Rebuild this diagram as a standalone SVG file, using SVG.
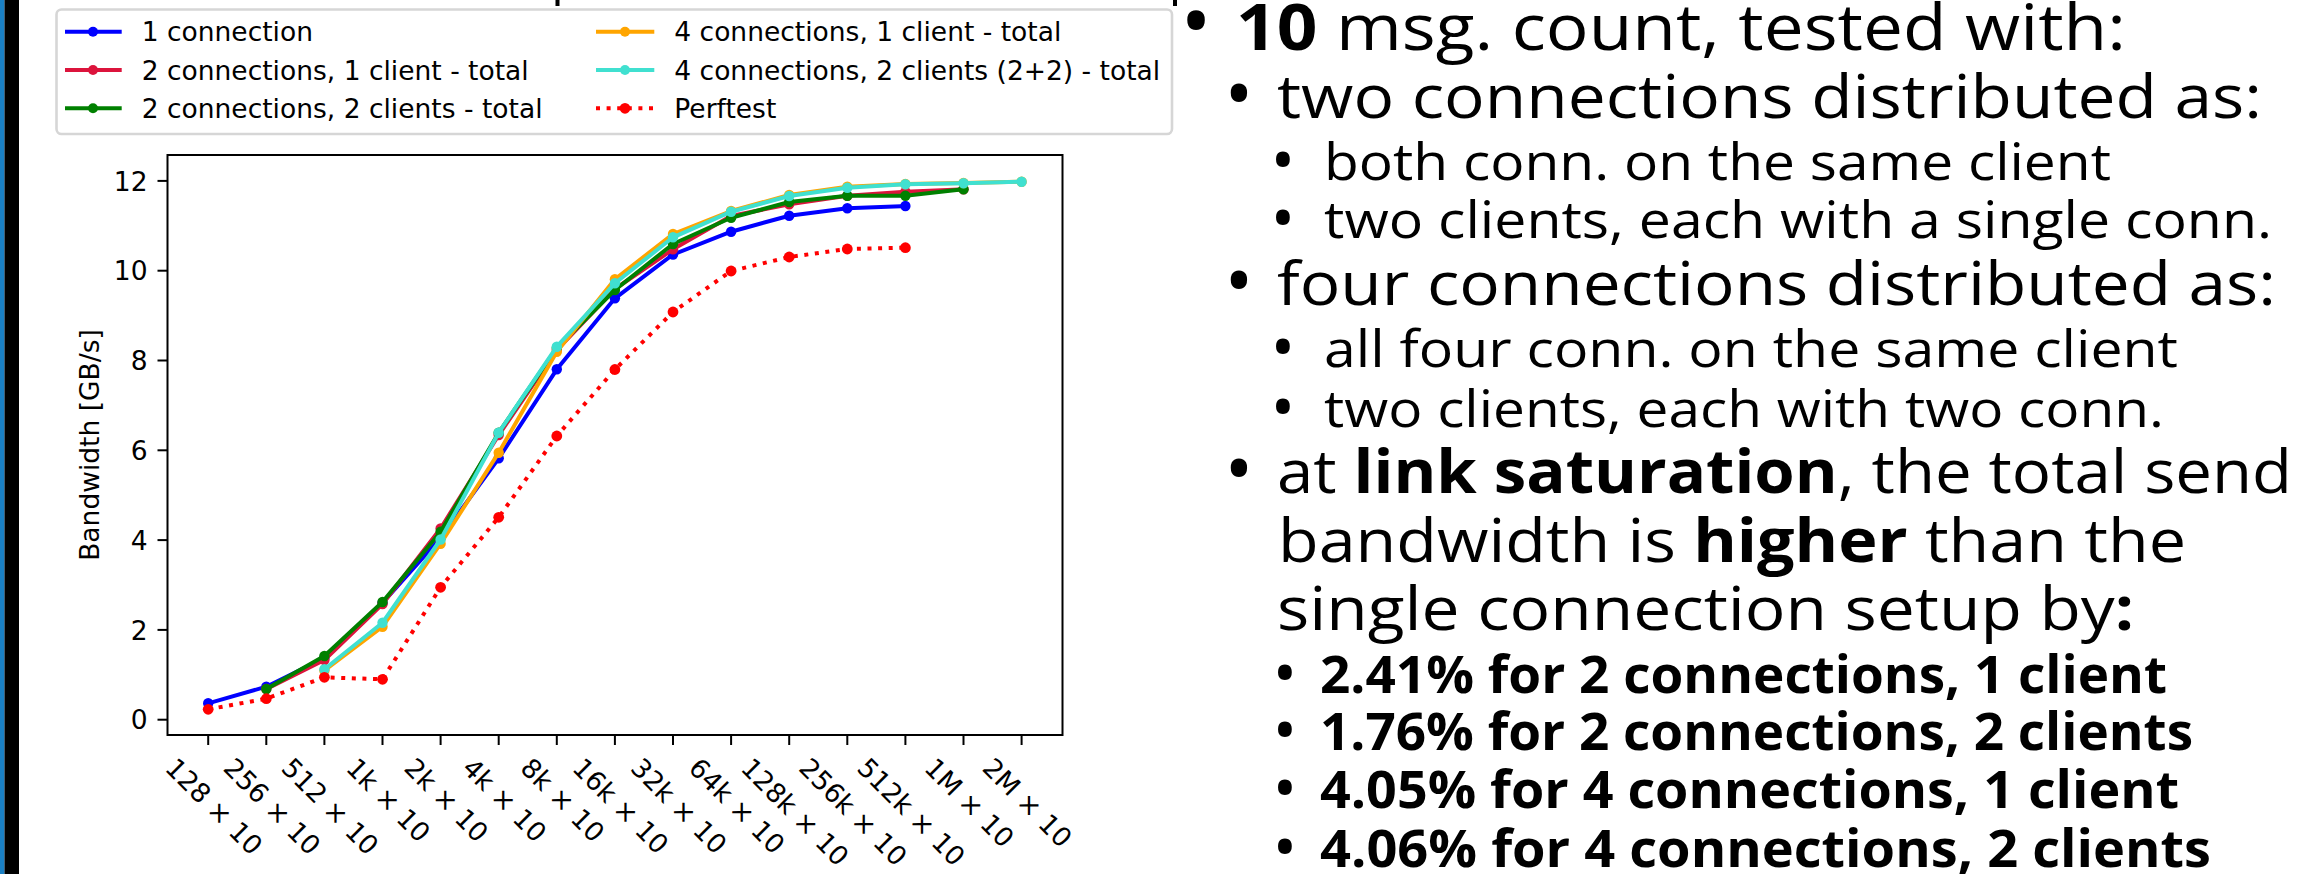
<svg xmlns="http://www.w3.org/2000/svg" width="2323" height="874" viewBox="0 0 2323 874">
<style>
.mpl{font-family:"DejaVu Sans",sans-serif;font-size:26.5px;fill:#000}
.s{fill:none;stroke-width:4;stroke-linejoin:round;stroke-linecap:square}
.dot{stroke-dasharray:4 6.6;stroke-linecap:butt}
.tx{font-family:"Open Sans","Noto Sans",sans-serif;fill:#000;font-weight:400}
.b{font-weight:700}
.l0{font-size:64px}
.l1{font-size:60px}
.l2{font-size:52px}
.bu{text-anchor:middle}
.bu0{font-size:84px}
.bu1{font-size:78px}
.bu2{font-size:66px}
</style>
<defs>
<marker id="mB" markerWidth="12" markerHeight="12" refX="6" refY="6" markerUnits="userSpaceOnUse" overflow="visible"><circle cx="6" cy="6" r="5.2" fill="#0000ff"/></marker>
<marker id="mC" markerWidth="12" markerHeight="12" refX="6" refY="6" markerUnits="userSpaceOnUse" overflow="visible"><circle cx="6" cy="6" r="5.2" fill="#dc143c"/></marker>
<marker id="mG" markerWidth="12" markerHeight="12" refX="6" refY="6" markerUnits="userSpaceOnUse" overflow="visible"><circle cx="6" cy="6" r="5.2" fill="#008000"/></marker>
<marker id="mO" markerWidth="12" markerHeight="12" refX="6" refY="6" markerUnits="userSpaceOnUse" overflow="visible"><circle cx="6" cy="6" r="5.2" fill="#ffa500"/></marker>
<marker id="mT" markerWidth="12" markerHeight="12" refX="6" refY="6" markerUnits="userSpaceOnUse" overflow="visible"><circle cx="6" cy="6" r="5.2" fill="#40e0d0"/></marker>
<marker id="mR" markerWidth="12" markerHeight="12" refX="6" refY="6" markerUnits="userSpaceOnUse" overflow="visible"><circle cx="6" cy="6" r="5.4" fill="#ff0000"/></marker>
</defs>
<rect width="2323" height="874" fill="#fff"/>
<rect x="0" y="0" width="4.5" height="874" fill="#1a80c4"/>
<rect x="4.5" y="0" width="14.5" height="874" fill="#000"/>
<rect x="555.5" y="0" width="4" height="6" fill="#000"/>
<rect x="1173" y="0" width="4" height="6" fill="#000"/>

<g id="axes">
<rect x="167.5" y="155" width="895" height="580" fill="#fff" stroke="#000" stroke-width="2"/>
<g stroke="#000" stroke-width="2">
<line x1="157.5" y1="180.9" x2="167.5" y2="180.9"/>
<line x1="157.5" y1="270.7" x2="167.5" y2="270.7"/>
<line x1="157.5" y1="360.5" x2="167.5" y2="360.5"/>
<line x1="157.5" y1="450.3" x2="167.5" y2="450.3"/>
<line x1="157.5" y1="540.1" x2="167.5" y2="540.1"/>
<line x1="157.5" y1="629.9" x2="167.5" y2="629.9"/>
<line x1="157.5" y1="719.7" x2="167.5" y2="719.7"/>
<line x1="208.2" y1="735" x2="208.2" y2="745"/>
<line x1="266.3" y1="735" x2="266.3" y2="745"/>
<line x1="324.4" y1="735" x2="324.4" y2="745"/>
<line x1="382.5" y1="735" x2="382.5" y2="745"/>
<line x1="440.6" y1="735" x2="440.6" y2="745"/>
<line x1="498.7" y1="735" x2="498.7" y2="745"/>
<line x1="556.8" y1="735" x2="556.8" y2="745"/>
<line x1="614.9" y1="735" x2="614.9" y2="745"/>
<line x1="673" y1="735" x2="673" y2="745"/>
<line x1="731.1" y1="735" x2="731.1" y2="745"/>
<line x1="789.2" y1="735" x2="789.2" y2="745"/>
<line x1="847.3" y1="735" x2="847.3" y2="745"/>
<line x1="905.4" y1="735" x2="905.4" y2="745"/>
<line x1="963.5" y1="735" x2="963.5" y2="745"/>
<line x1="1021.6" y1="735" x2="1021.6" y2="745"/>
</g>
<g class="mpl" text-anchor="end">
<text x="147.5" y="190.6">12</text>
<text x="147.5" y="280.4">10</text>
<text x="147.5" y="370.2">8</text>
<text x="147.5" y="460">6</text>
<text x="147.5" y="549.8">4</text>
<text x="147.5" y="639.6">2</text>
<text x="147.5" y="729.4">0</text>
</g>
<text class="mpl" text-anchor="middle" transform="translate(99,445) rotate(-90)">Bandwidth [GB/s]</text>
<g class="mpl" text-anchor="middle" dominant-baseline="central">
<text transform="translate(214.2,806.4) rotate(45)">128 × 10</text>
<text transform="translate(272.3,806.4) rotate(45)">256 × 10</text>
<text transform="translate(330.4,806.4) rotate(45)">512 × 10</text>
<text transform="translate(388.5,800) rotate(45)">1k × 10</text>
<text transform="translate(446.6,800) rotate(45)">2k × 10</text>
<text transform="translate(504.7,800) rotate(45)">4k × 10</text>
<text transform="translate(562.8,800) rotate(45)">8k × 10</text>
<text transform="translate(620.9,805.9) rotate(45)">16k × 10</text>
<text transform="translate(679,805.9) rotate(45)">32k × 10</text>
<text transform="translate(737.1,805.9) rotate(45)">64k × 10</text>
<text transform="translate(795.2,811.9) rotate(45)">128k × 10</text>
<text transform="translate(853.3,811.9) rotate(45)">256k × 10</text>
<text transform="translate(911.4,811.9) rotate(45)">512k × 10</text>
<text transform="translate(969.5,802.6) rotate(45)">1M × 10</text>
<text transform="translate(1027.6,802.6) rotate(45)">2M × 10</text>
</g>
</g>

<g id="series">
<polyline class="s" stroke="#0000ff" marker-start="url(#mB)" marker-mid="url(#mB)" marker-end="url(#mB)" points="208.2,703.3 266.3,686.7 324.4,658 382.5,603 440.6,538 498.7,458.3 556.8,369.3 614.9,298.3 673,254.5 731.1,231.7 789.2,215.7 847.3,208.3 905.4,206"/>
<polyline class="s" stroke="#dc143c" marker-start="url(#mC)" marker-mid="url(#mC)" marker-end="url(#mC)" points="266.3,689 324.4,660 382.5,604 440.6,528.5 498.7,435 556.8,350 614.9,289 673,249.3 731.1,216 789.2,204.3 847.3,195.7 905.4,191.7 963.5,189.3"/>
<polyline class="s" stroke="#008000" marker-start="url(#mG)" marker-mid="url(#mG)" marker-end="url(#mG)" points="266.3,689 324.4,656 382.5,602 440.6,531.7 498.7,432.7 556.8,348 614.9,290 673,244 731.1,217.7 789.2,202 847.3,195.7 905.4,195.7 963.5,189.3"/>
<polyline class="s" stroke="#ffa500" marker-start="url(#mO)" marker-mid="url(#mO)" marker-end="url(#mO)" points="324.4,670.5 382.5,626.7 440.6,543.7 498.7,452.7 556.8,351.7 614.9,279.3 673,234 731.1,211 789.2,195 847.3,186.7 905.4,184 963.5,183 1021.6,181.7"/>
<polyline class="s" stroke="#40e0d0" marker-start="url(#mT)" marker-mid="url(#mT)" marker-end="url(#mT)" points="324.4,669.3 382.5,622.7 440.6,539.5 498.7,432.7 556.8,346.7 614.9,283.3 673,237.3 731.1,211.7 789.2,196 847.3,187.7 905.4,184.3 963.5,183.3 1021.6,181.7"/>
<polyline class="s dot" stroke="#ff0000" marker-start="url(#mR)" marker-mid="url(#mR)" marker-end="url(#mR)" points="208.2,709.3 266.3,698.7 324.4,677.3 382.5,679.3 440.6,587.3 498.7,517.3 556.8,436 614.9,369.5 673,312 731.1,271 789.2,257 847.3,249 905.4,247.7"/>
</g>

<g id="legend">
<rect x="56.5" y="9.5" width="1115.5" height="124.5" rx="5" fill="#fff" fill-opacity="0.8" stroke="#d6d6d6" stroke-width="2.6"/>
<g stroke-width="4">
<line x1="65" y1="31.7" x2="121.7" y2="31.7" stroke="#0000ff"/>
<line x1="65" y1="70" x2="121.7" y2="70" stroke="#dc143c"/>
<line x1="65" y1="108.3" x2="121.7" y2="108.3" stroke="#008000"/>
<line x1="596" y1="31.7" x2="654.3" y2="31.7" stroke="#ffa500"/>
<line x1="596" y1="70" x2="654.3" y2="70" stroke="#40e0d0"/>
<line x1="596" y1="108.3" x2="654.3" y2="108.3" stroke="#ff0000" stroke-dasharray="4 6.6"/>
</g>
<circle cx="93" cy="31.7" r="5" fill="#0000ff"/>
<circle cx="93" cy="70" r="5" fill="#dc143c"/>
<circle cx="93" cy="108.3" r="5" fill="#008000"/>
<circle cx="625" cy="31.7" r="5" fill="#ffa500"/>
<circle cx="625" cy="70" r="5" fill="#40e0d0"/>
<circle cx="625" cy="108.3" r="5.4" fill="#ff0000"/>
<g class="mpl">
<text x="141.7" y="41.3">1 connection</text>
<text x="141.7" y="79.6">2 connections, 1 client - total</text>
<text x="141.7" y="117.9">2 connections, 2 clients - total</text>
<text x="674.3" y="41.3">4 connections, 1 client - total</text>
<text x="674.3" y="79.6">4 connections, 2 clients (2+2) - total</text>
<text x="674.3" y="117.9">Perftest</text>
</g>
</g>

<g id="bullets" class="tx">
<text class="bu bu0" x="1196" y="50.5">•</text>
<text class="l0" x="1236" y="50" textLength="890" lengthAdjust="spacingAndGlyphs"><tspan class="b">10</tspan> msg. count, tested with:</text>
<text class="bu bu1" x="1239" y="121.8">•</text>
<text class="l1" x="1277" y="118" textLength="985" lengthAdjust="spacingAndGlyphs">two connections distributed as:</text>
<text class="bu bu2" x="1283" y="182.8">•</text>
<text class="l2" x="1324" y="180" textLength="787" lengthAdjust="spacingAndGlyphs">both conn. on the same client</text>
<text class="bu bu2" x="1283" y="240.8">•</text>
<text class="l2" x="1324" y="238" textLength="948" lengthAdjust="spacingAndGlyphs">two clients, each with a single conn.</text>
<text class="bu bu1" x="1239" y="308.8">•</text>
<text class="l1" x="1277" y="305" textLength="999" lengthAdjust="spacingAndGlyphs">four connections distributed as:</text>
<text class="bu bu2" x="1283" y="369.8">•</text>
<text class="l2" x="1324" y="367" textLength="854" lengthAdjust="spacingAndGlyphs">all four conn. on the same client</text>
<text class="bu bu2" x="1283" y="429.8">•</text>
<text class="l2" x="1324" y="427" textLength="840" lengthAdjust="spacingAndGlyphs">two clients, each with two conn.</text>
<text class="bu bu1" x="1239" y="496.8">•</text>
<text class="l1" x="1277" y="493" textLength="1015" lengthAdjust="spacingAndGlyphs">at <tspan class="b">link saturation</tspan>, the total send</text>
<text class="l1" x="1278" y="562" textLength="908" lengthAdjust="spacingAndGlyphs">bandwidth is <tspan class="b">higher</tspan> than the</text>
<text class="l1" x="1277" y="630" textLength="857" lengthAdjust="spacingAndGlyphs">single connection setup by<tspan class="b">:</tspan></text>
<text class="bu bu2" x="1285" y="695.8">•</text>
<text class="l2 b" x="1320" y="693" textLength="847" lengthAdjust="spacingAndGlyphs">2.41% for 2 connections, 1 client</text>
<text class="bu bu2" x="1285" y="752.8">•</text>
<text class="l2 b" x="1320" y="750" textLength="873" lengthAdjust="spacingAndGlyphs">1.76% for 2 connections, 2 clients</text>
<text class="bu bu2" x="1285" y="810.8">•</text>
<text class="l2 b" x="1320" y="808" textLength="859" lengthAdjust="spacingAndGlyphs">4.05% for 4 connections, 1 client</text>
<text class="bu bu2" x="1285" y="869.8">•</text>
<text class="l2 b" x="1320" y="867" textLength="891" lengthAdjust="spacingAndGlyphs">4.06% for 4 connections, 2 clients</text>
</g>
</svg>
